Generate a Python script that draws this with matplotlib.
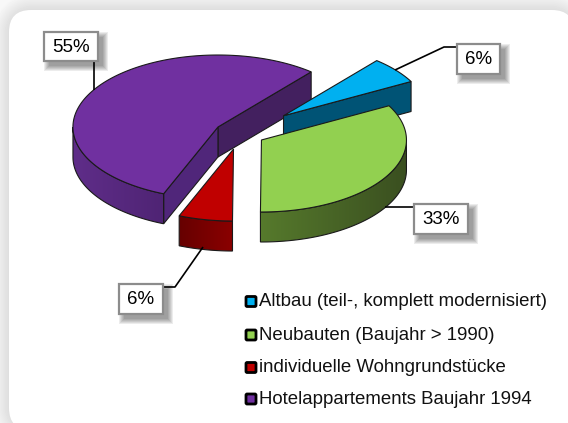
import numpy as np
import matplotlib
matplotlib.use("Agg")
import matplotlib.pyplot as plt
from matplotlib.patches import Polygon, FancyBboxPatch, Rectangle

categories = ["Altbau (teil-, komplett modernisiert)", "Neubauten (Baujahr > 1990)",
              "individuelle Wohngrundstücke", "Hotelappartements Baujahr 1994"]
values = [6, 33, 6, 55]
explode = [0.39, 0.175, 0.22, 0.175]
percent_labels = ["6%", "33%", "6%", "55%"]
top_colors = ["#00b0f0", "#92d050", "#c00000", "#7030a0"]

plt.rcParams['font.family'] = ['Liberation Sans', 'DejaVu Sans']
W, H = 568, 423
fig = plt.figure(figsize=(W/100, H/100), dpi=100)
ax = fig.add_axes([0, 0, 1, 1])
ax.set_xlim(0, W); ax.set_ylim(H, 0); ax.axis("off")

# Background with soft frame shadow
xx, yy = np.meshgrid(np.arange(W)+.5, np.arange(H)+.5)
PX0, PY0, PX1, PY1, RAD = 9, 10, 574, 430, 22
qx = np.maximum(np.maximum(PX0+RAD-xx, xx-(PX1-RAD)), 0)
qy = np.maximum(np.maximum(PY0+RAD-yy, yy-(PY1-RAD)), 0)
dist = np.hypot(qx, qy)-RAD
shade = np.clip(dist/16, 0, 1)
bg = 0.87+(0.97-0.87)*shade
ax.imshow(bg, cmap="gray", vmin=0, vmax=1, extent=(0, W, H, 0), aspect="auto", zorder=0)
ax.set_xlim(0, W); ax.set_ylim(H, 0)
ax.add_patch(FancyBboxPatch((PX0+RAD, PY0+RAD), PX1-PX0-2*RAD, PY1-PY0-2*RAD,
                            boxstyle=f"round,pad={RAD},rounding_size={RAD}",
                            fc="white", ec="none", zorder=1))

# Pie geometry
CX, CY, RX, RY, DEPTH = 239.7, 133.5, 145, 72, 30
START = 40.0
EDGE = "#1a1a1a"
LW = 0.8


def pt(c, deg):
    a = np.radians(deg)
    return c[0]+RX*np.sin(a), c[1]-RY*np.cos(a)


def arc(c, a0, a1, dy=0):
    t = np.linspace(a0, a1, max(2, int(abs(a1-a0))*2))
    x, y = pt(c, t)
    return np.column_stack([x, y+dy])


def gradient_side(verts, c0, c1, z):
    verts = np.asarray(verts)
    patch = Polygon(verts, closed=True, fc="none", ec="none", zorder=z)
    ax.add_patch(patch)
    grad = np.linspace(0, 1, 256)[None, :, None]
    rgb0 = np.array(matplotlib.colors.to_rgb(c0))
    rgb1 = np.array(matplotlib.colors.to_rgb(c1))
    img = rgb0+(rgb1-rgb0)*grad
    x0, x1 = verts[:, 0].min(), verts[:, 0].max()
    y0, y1 = verts[:, 1].min(), verts[:, 1].max()
    im = ax.imshow(img, extent=(x0, x1, y1, y0), aspect="auto", zorder=z)
    im.set_clip_path(patch)
    ax.add_patch(Polygon(verts, closed=True, fc="none", ec=EDGE, lw=LW, zorder=z+.01))


def flat_face(verts, color, z):
    ax.add_patch(Polygon(verts, closed=True, fc=color, ec=EDGE, lw=LW, zorder=z))


def extrude(p, q):
    return [p, q, (q[0], q[1]+DEPTH), (p[0], p[1]+DEPTH)]


sweeps = np.array(values, float)/sum(values)*360
ends = START+np.cumsum(sweeps)
starts = ends-sweeps
centers = []
for s, e, ex in zip(starts, ends, explode):
    m = np.radians((s+e)/2)
    centers.append((CX+ex*RX*np.sin(m), CY-ex*RY*np.cos(m)))

# Hotelappartements
c = centers[3]
a0, a1 = starts[3], ends[3]
flat_face(extrude(c, pt(c, a1)), "#43205f", 3)
flat_face(extrude(c, pt(c, a0)), "#50267a", 3.1)
lo = np.vstack([arc(c, a0, 270), arc(c, 270, a0, DEPTH)])
gradient_side(lo, "#5f2d89", "#4f2474", 3.2)
flat_face(np.vstack([[c], arc(c, a0, a1)]), top_colors[3], 3.3)

# Altbau
c = centers[0]
a0, a1 = starts[0], ends[0]
flat_face(extrude(c, pt(c, a1)), "#005375", 4)
flat_face(np.vstack([[c], arc(c, a0, a1)]), top_colors[0], 4.1)

# Neubauten
c = centers[1]
a0, a1 = starts[1], ends[1]
lo = np.vstack([arc(c, 90, a1), arc(c, a1, 90, DEPTH)])
gradient_side(lo, "#567a2c", "#3a4f20", 5)
flat_face(np.vstack([[c], arc(c, a0, a1)]), top_colors[1], 5.2)

# individuelle
c = centers[2]
a0, a1 = starts[2], ends[2]
lo = np.vstack([arc(c, a0, a1), arc(c, a1, a0, DEPTH)])
gradient_side(lo, "#660000", "#8b0000", 6)
flat_face(np.vstack([[c], arc(c, a0, a1)]), top_colors[2], 6.2)

# Leader lines and value boxes
leaders = [[(395, 70), (444, 47), (457, 47)], [(385, 207), (414, 207)],
           [(203, 247), (175, 287), (163, 287)], [(94, 61), (94, 90)]]
boxes = [(457, 44, 500, 74), (414, 204, 468, 234), (119, 284, 163, 314), (44, 32, 98, 61)]
for line, box, label in zip(leaders, boxes, percent_labels):
    xs, ys = zip(*line)
    ax.plot(xs, ys, color="black", lw=1.2, zorder=7, solid_capstyle="butt")
    x0, y0, x1, y1 = box
    for i in range(6, 0, -1):
        ax.add_patch(Rectangle((x0+6-i, y0+6-i), x1-x0+2*i-2, y1-y0+2*i-2, fc="black", ec="none",
                               alpha=0.075, zorder=7.5))
    ax.add_patch(Rectangle((x0, y0), x1-x0, y1-y0, fc="white", ec="#8c8c8c", lw=1.6, zorder=8))
    ax.text((x0+x1)/2, (y0+y1)/2+0.5, label, ha="center", va="center", fontsize=13.5, color="black", zorder=9)

# Legend
legend_y = [301.5, 335, 367.5, 399]
for y, name, col in zip(legend_y, categories, top_colors):
    ax.add_patch(FancyBboxPatch((246, y-5), 10, 10, boxstyle="round,pad=0,rounding_size=1.2",
                                fc=col, ec="black", lw=2, zorder=8))
    ax.text(259, y+0.5, name, ha="left", va="center", fontsize=13.45, color="#111111", zorder=9)

fig.savefig("out.png", dpi=100)
